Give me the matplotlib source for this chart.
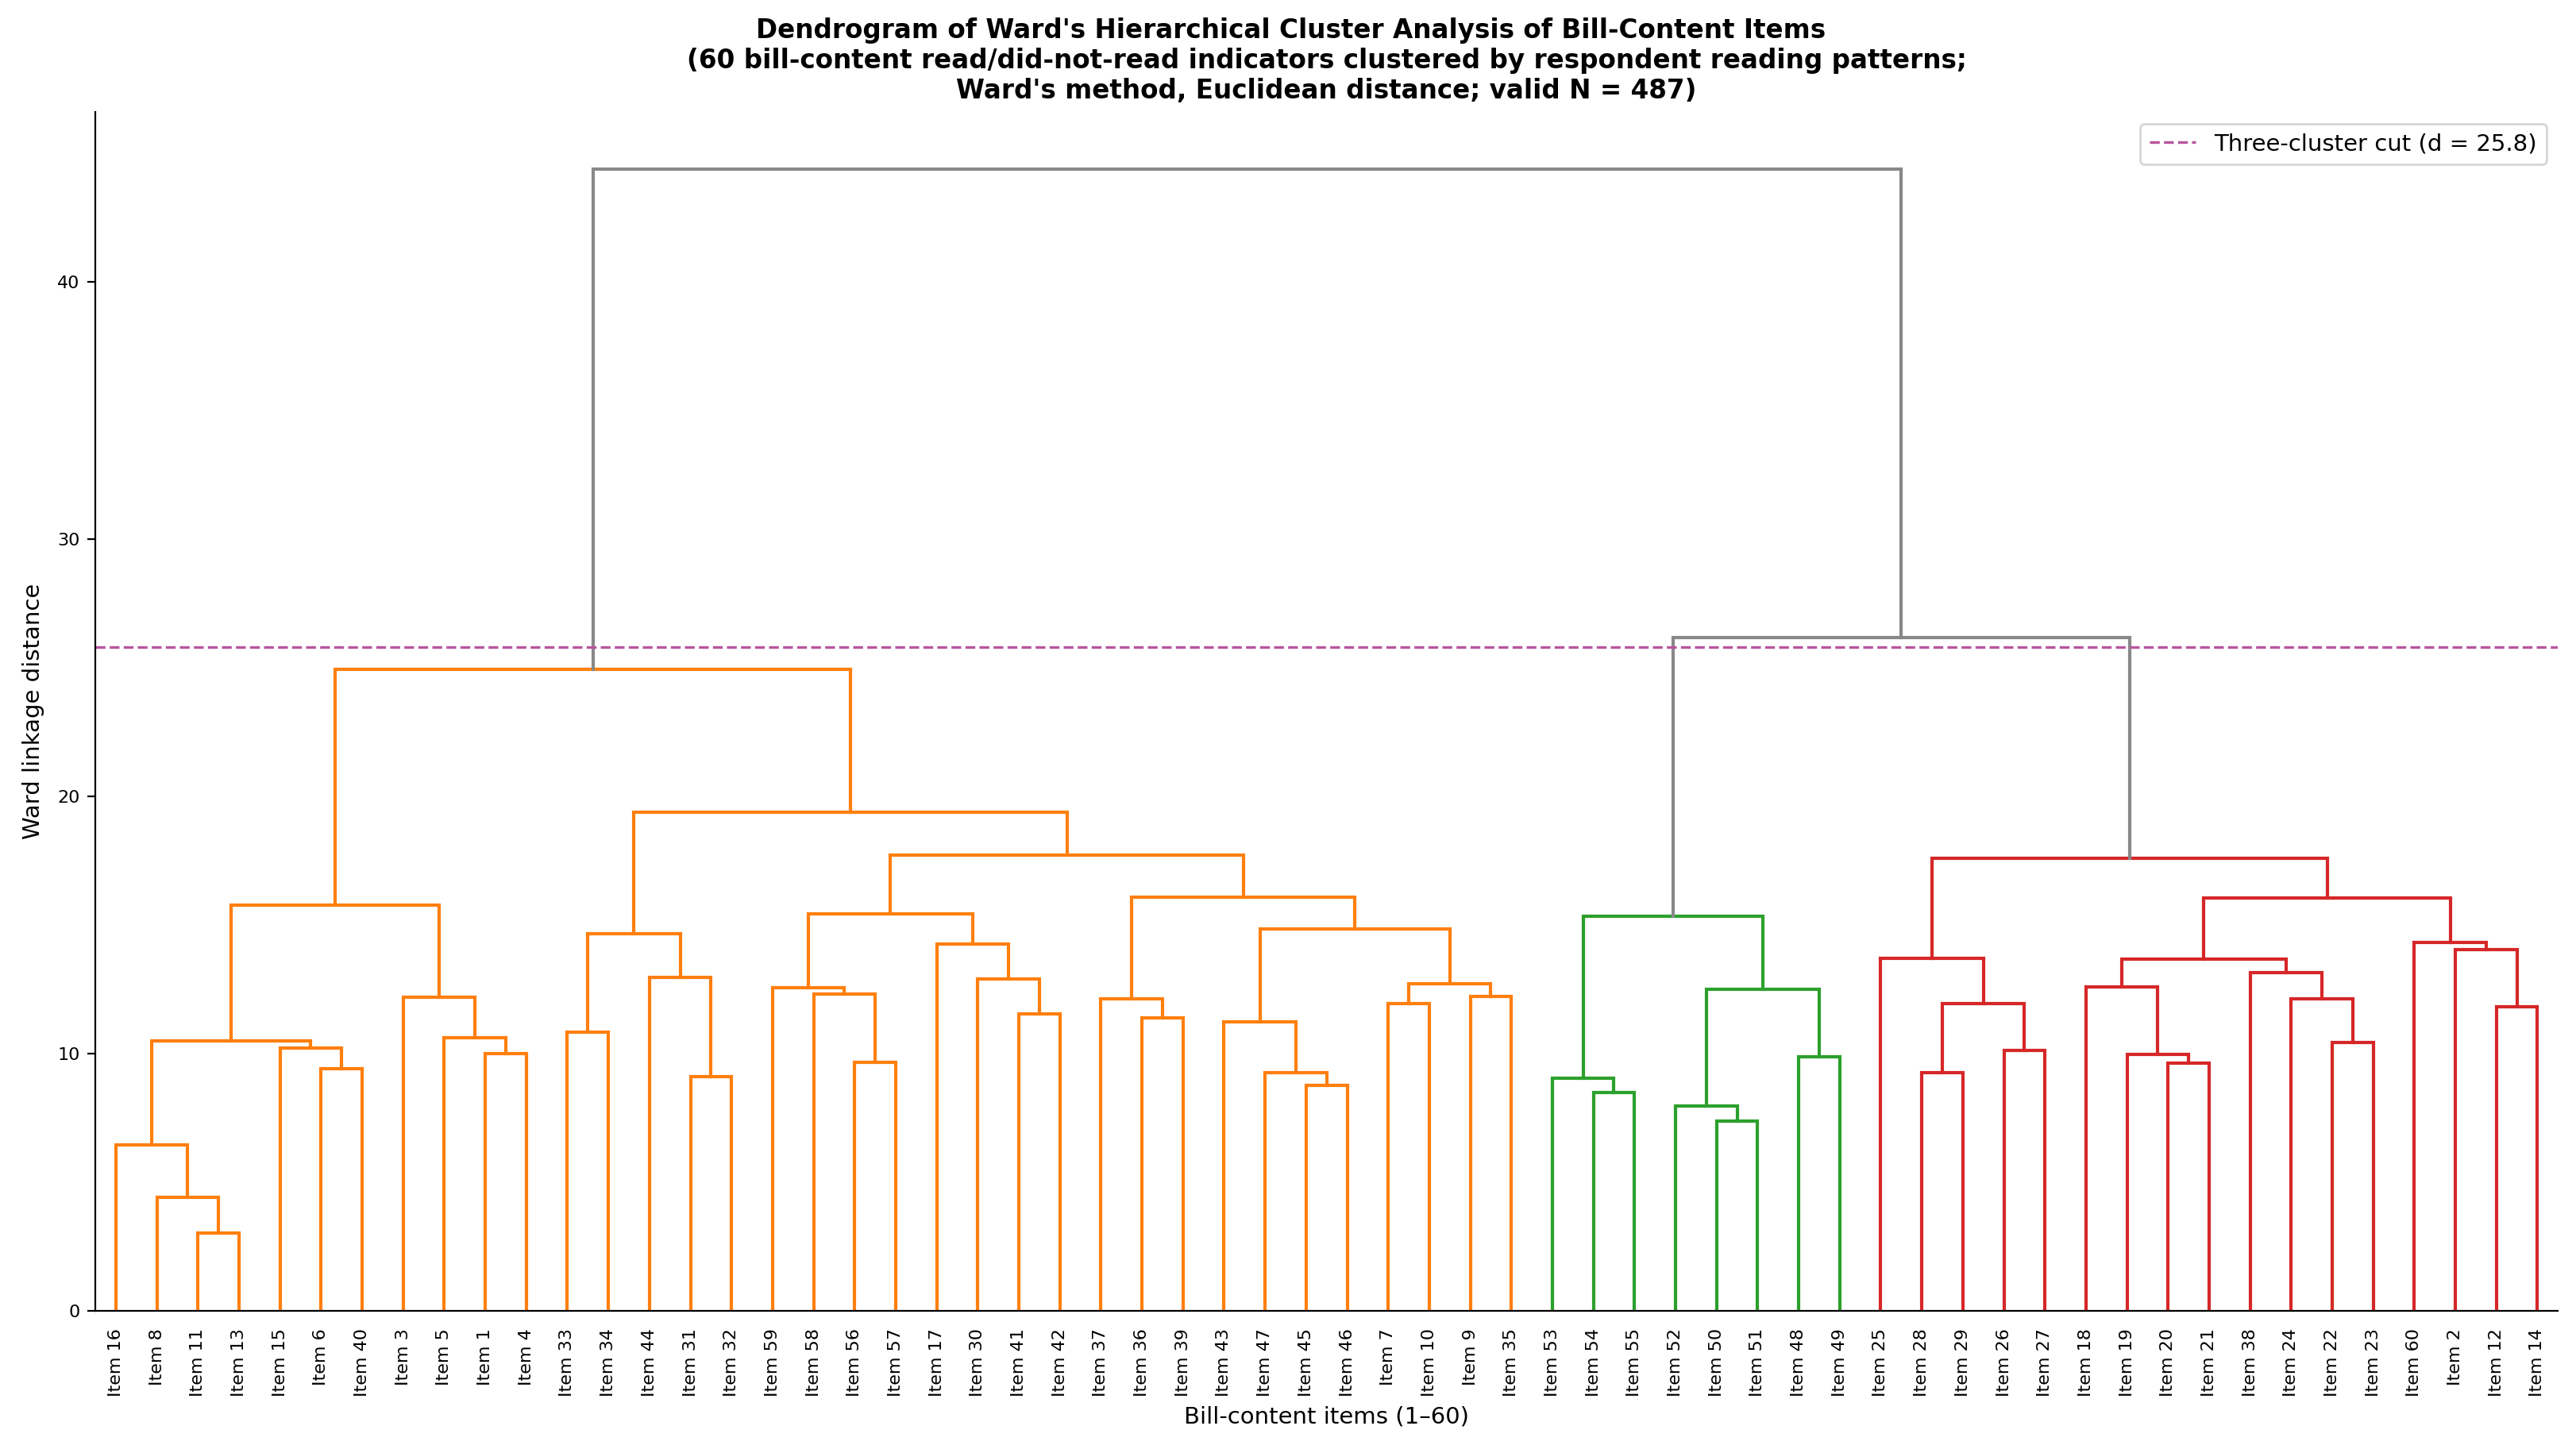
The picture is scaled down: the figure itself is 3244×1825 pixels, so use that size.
import matplotlib
matplotlib.use("Agg")
import matplotlib.pyplot as plt

# merges: (name, left child, right child, Ward distance); ints are item numbers
merges = [
    ("a1", 11, 13, 3.03), ("a2", 8, "a1", 4.41), ("a3", 16, "a2", 6.47),
    ("a4", 6, 40, 9.41), ("a5", 15, "a4", 10.22), ("a6", "a3", "a5", 10.51),
    ("a7", 1, 4, 10.00), ("a8", 5, "a7", 10.61), ("a9", 3, "a8", 12.21),
    ("a10", "a6", "a9", 15.77),
    ("b1", 33, 34, 10.83), ("b2", 31, 32, 9.10), ("b3", 44, "b2", 12.97),
    ("b4", "b1", "b3", 14.66),
    ("c1", 56, 57, 9.66), ("c2", 58, "c1", 12.32), ("c3", 59, "c2", 12.57),
    ("c4", 41, 42, 11.56), ("c5", 30, "c4", 12.91), ("c6", 17, "c5", 14.26),
    ("c7", "c3", "c6", 15.45),
    ("d1", 36, 39, 11.39), ("d2", 37, "d1", 12.15), ("d3", 45, 46, 8.77),
    ("d4", 47, "d3", 9.26), ("d5", 43, "d4", 11.23), ("d6", 7, 10, 11.96),
    ("d7", 9, 35, 12.23), ("d8", "d6", "d7", 12.73), ("d9", "d5", "d8", 14.86),
    ("d10", "d2", "d9", 16.10),
    ("e1", "c7", "d10", 17.71), ("e2", "b4", "e1", 19.39), ("e3", "a10", "e2", 24.96),
    ("g1", 54, 55, 8.48), ("g2", 53, "g1", 9.06), ("g3", 50, 51, 7.38),
    ("g4", 52, "g3", 7.96), ("g5", 48, 49, 9.88), ("g6", "g4", "g5", 12.51),
    ("g7", "g2", "g6", 15.34),
    ("r1", 28, 29, 9.28), ("r2", 26, 27, 10.12), ("r3", "r1", "r2", 11.94),
    ("r4", 25, "r3", 13.70), ("r5", 20, 21, 9.63), ("r6", 19, "r5", 9.96),
    ("r7", 18, "r6", 12.59), ("r8", 22, 23, 10.44), ("r9", 24, "r8", 12.14),
    ("r10", 38, "r9", 13.17), ("r11", "r7", "r10", 13.67), ("r12", 12, 14, 11.82),
    ("r13", 2, "r12", 14.04), ("r14", 60, "r13", 14.32), ("r15", "r11", "r14", 16.07),
    ("r16", "r4", "r15", 17.61),
    ("t1", "g7", "r16", 26.18), ("t2", "e3", "t1", 44.40),
]
cut_height = 25.8
cluster_roots = ["e3", "g7", "r16"]
cluster_colors = ["#ff7f0e", "#2ca02c", "#d62728"]
above_color = "#888888"
cut_color = "#b8559d"

node = {m[0]: m for m in merges}
root = merges[-1][0]

# leaf order from an in-order walk of the tree
leaf_order = []
def walk(n):
    if isinstance(n, int):
        leaf_order.append(n)
        return
    walk(node[n][1])
    walk(node[n][2])
walk(root)
leaf_x = {item: 5 + 10 * i for i, item in enumerate(leaf_order)}

fig = plt.figure(figsize=(16.22, 9.125), dpi=200)
ax = fig.add_axes([0.037, 0.0953, 0.956, 0.8274])

def draw(n, color):
    if isinstance(n, int):
        return leaf_x[n], 0.0
    name, left, right, h = node[n]
    if n in cluster_roots:
        color = cluster_colors[cluster_roots.index(n)]
    c = color if h < cut_height else above_color
    xl, hl = draw(left, color)
    xr, hr = draw(right, color)
    ax.plot([xl, xl, xr, xr], [hl, h, h, hr], color=c, lw=1.5,
            solid_joinstyle="miter")
    return (xl + xr) / 2, h

draw(root, above_color)

ax.axhline(cut_height, color=cut_color, ls="--", lw=1.2,
           label="Three-cluster cut (d = %.1f)" % cut_height)

ax.set_xlim(0, 10 * len(leaf_order))
ax.set_ylim(0, merges[-1][3] * 1.05)
ax.set_xticks([leaf_x[i] for i in leaf_order])
ax.set_xticklabels(["Item %d" % i for i in leaf_order], rotation=90, fontsize=8)
ax.tick_params(axis="x", length=0, pad=8)
ax.tick_params(axis="y", labelsize=8)
ax.set_yticks([0, 10, 20, 30, 40])
for s in ["top", "right"]:
    ax.spines[s].set_visible(False)

ax.set_xlabel("Bill-content items (1\u201360)", fontsize=10.5)
ax.set_ylabel("Ward linkage distance", fontsize=10.5, labelpad=6)
ax.set_title("Dendrogram of Ward's Hierarchical Cluster Analysis of Bill-Content Items        \n"
             "(60 bill-content read/did-not-read indicators clustered by respondent reading patterns;\n"
             "Ward's method, Euclidean distance; valid N = 487)",
             fontsize=11.75, fontweight="bold", pad=6)
ax.legend(loc="upper right", fontsize=10.5)

fig.savefig("out.png", dpi=200)
